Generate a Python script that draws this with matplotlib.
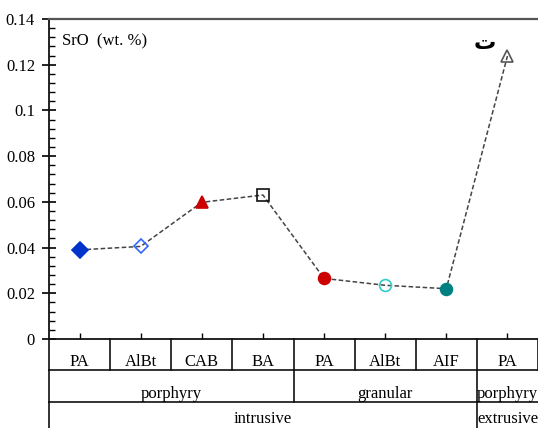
import numpy as np
import matplotlib.pyplot as plt
from matplotlib.ticker import MultipleLocator

# data
rocks = ['PA', 'AlBt', 'CAB', 'BA', 'PA', 'AlBt', 'AIF', 'PA']
sro = [0.039, 0.0405, 0.0598, 0.0630, 0.0265, 0.0235, 0.0220, 0.1238]
texture = [('porphyry', 0, 3), ('granular', 4, 6), ('porphyry', 7, 7)]
setting = [('intrusive', 0, 6), ('extrusive', 7, 7)]

# marker styles per sample
markers = ['D', 'D', '^', 's', 'o', 'o', 'o', '^']
faces = ['#0033cc', 'none', '#cc0000', 'none', '#cc0000', 'none', '#008080', 'none']
edges = ['#0033cc', '#3366ff', '#cc0000', '#111111', '#cc0000', '#33cccc', '#008080', '#555555']
sizes = [8, 7.5, 9, 8, 8.5, 8.5, 8.5, 8]

plt.rcParams['font.family'] = ['Liberation Serif', 'DejaVu Serif']

fig = plt.figure(figsize=(5.38, 4.28), dpi=100)
ax = fig.add_axes([49 / 538, 89 / 428, 489 / 538, 320 / 428])

x = np.arange(len(rocks))
ax.plot(x, sro, ls=(0, (3, 1.6)), color='#444444', lw=1.1, zorder=2)
for xi, yi, m, fc, ec, s in zip(x, sro, markers, faces, edges, sizes):
    ax.plot(xi, yi, marker=m, ms=s, mfc=fc, mec=ec, mew=1.2, ls='none', zorder=3)

ax.set_xlim(-0.5, len(rocks) - 0.5)
ax.set_ylim(0, 0.14)
ax.yaxis.set_major_locator(MultipleLocator(0.02))
ax.yaxis.set_minor_locator(MultipleLocator(0.004))
ax.set_yticks(np.arange(0, 0.141, 0.02))
ax.set_yticklabels(['0', '0.02', '0.04', '0.06', '0.08', '0.1', '0.12', '0.14'])
ax.tick_params(axis='y', which='major', direction='inout', length=10, width=1.2,
               labelsize=12, pad=5)
ax.tick_params(axis='y', which='minor', direction='in', length=4, width=1.0)
ax.set_xticks(x)
ax.set_xticklabels([])
ax.tick_params(axis='x', which='major', direction='in', length=4, width=1.0)

for side in ['left', 'bottom']:
    ax.spines[side].set_linewidth(1.3)
    ax.spines[side].set_color('#111111')
ax.spines['top'].set_linewidth(1.6)
ax.spines['top'].set_color('#555555')
ax.spines['right'].set_visible(False)

ax.text(0.027, 0.955, 'SrO  (wt. %)', transform=ax.transAxes, fontsize=12,
        va='top', ha='left')
ax.text(6.63, 0.1269, 'ت', fontsize=16, fontweight='bold',
        family=['DejaVu Sans'], ha='center', va='baseline')

# category table under the axis
tr = ax.get_xaxis_transform()
rows = [0, -0.0969, -0.197, -0.30]
lk = dict(color='#111111', lw=1.2, transform=tr, clip_on=False)

for yb in rows[1:3]:
    ax.plot([-0.5, len(rocks) - 0.5], [yb, yb], **lk)

for i, name in enumerate(rocks):
    ax.plot([i - 0.5, i - 0.5], [rows[0], rows[1]], **lk)
    ax.text(i, -0.084, name, transform=tr, ha='center', va='baseline', fontsize=12)
ax.plot([len(rocks) - 0.5] * 2, [rows[0], rows[1]], **lk)

for name, a, b in texture:
    ax.plot([a - 0.5, a - 0.5], [rows[1], rows[2]], **lk)
    ax.text((a + b) / 2, -0.184, name, transform=tr, ha='center', va='baseline',
            fontsize=12)

for name, a, b in setting:
    ax.plot([a - 0.5, a - 0.5], [rows[2], rows[3]], **lk)
    ax.text((a + b) / 2, -0.262, name, transform=tr, ha='center', va='baseline',
            fontsize=12)

fig.savefig('out.png', dpi=100)
